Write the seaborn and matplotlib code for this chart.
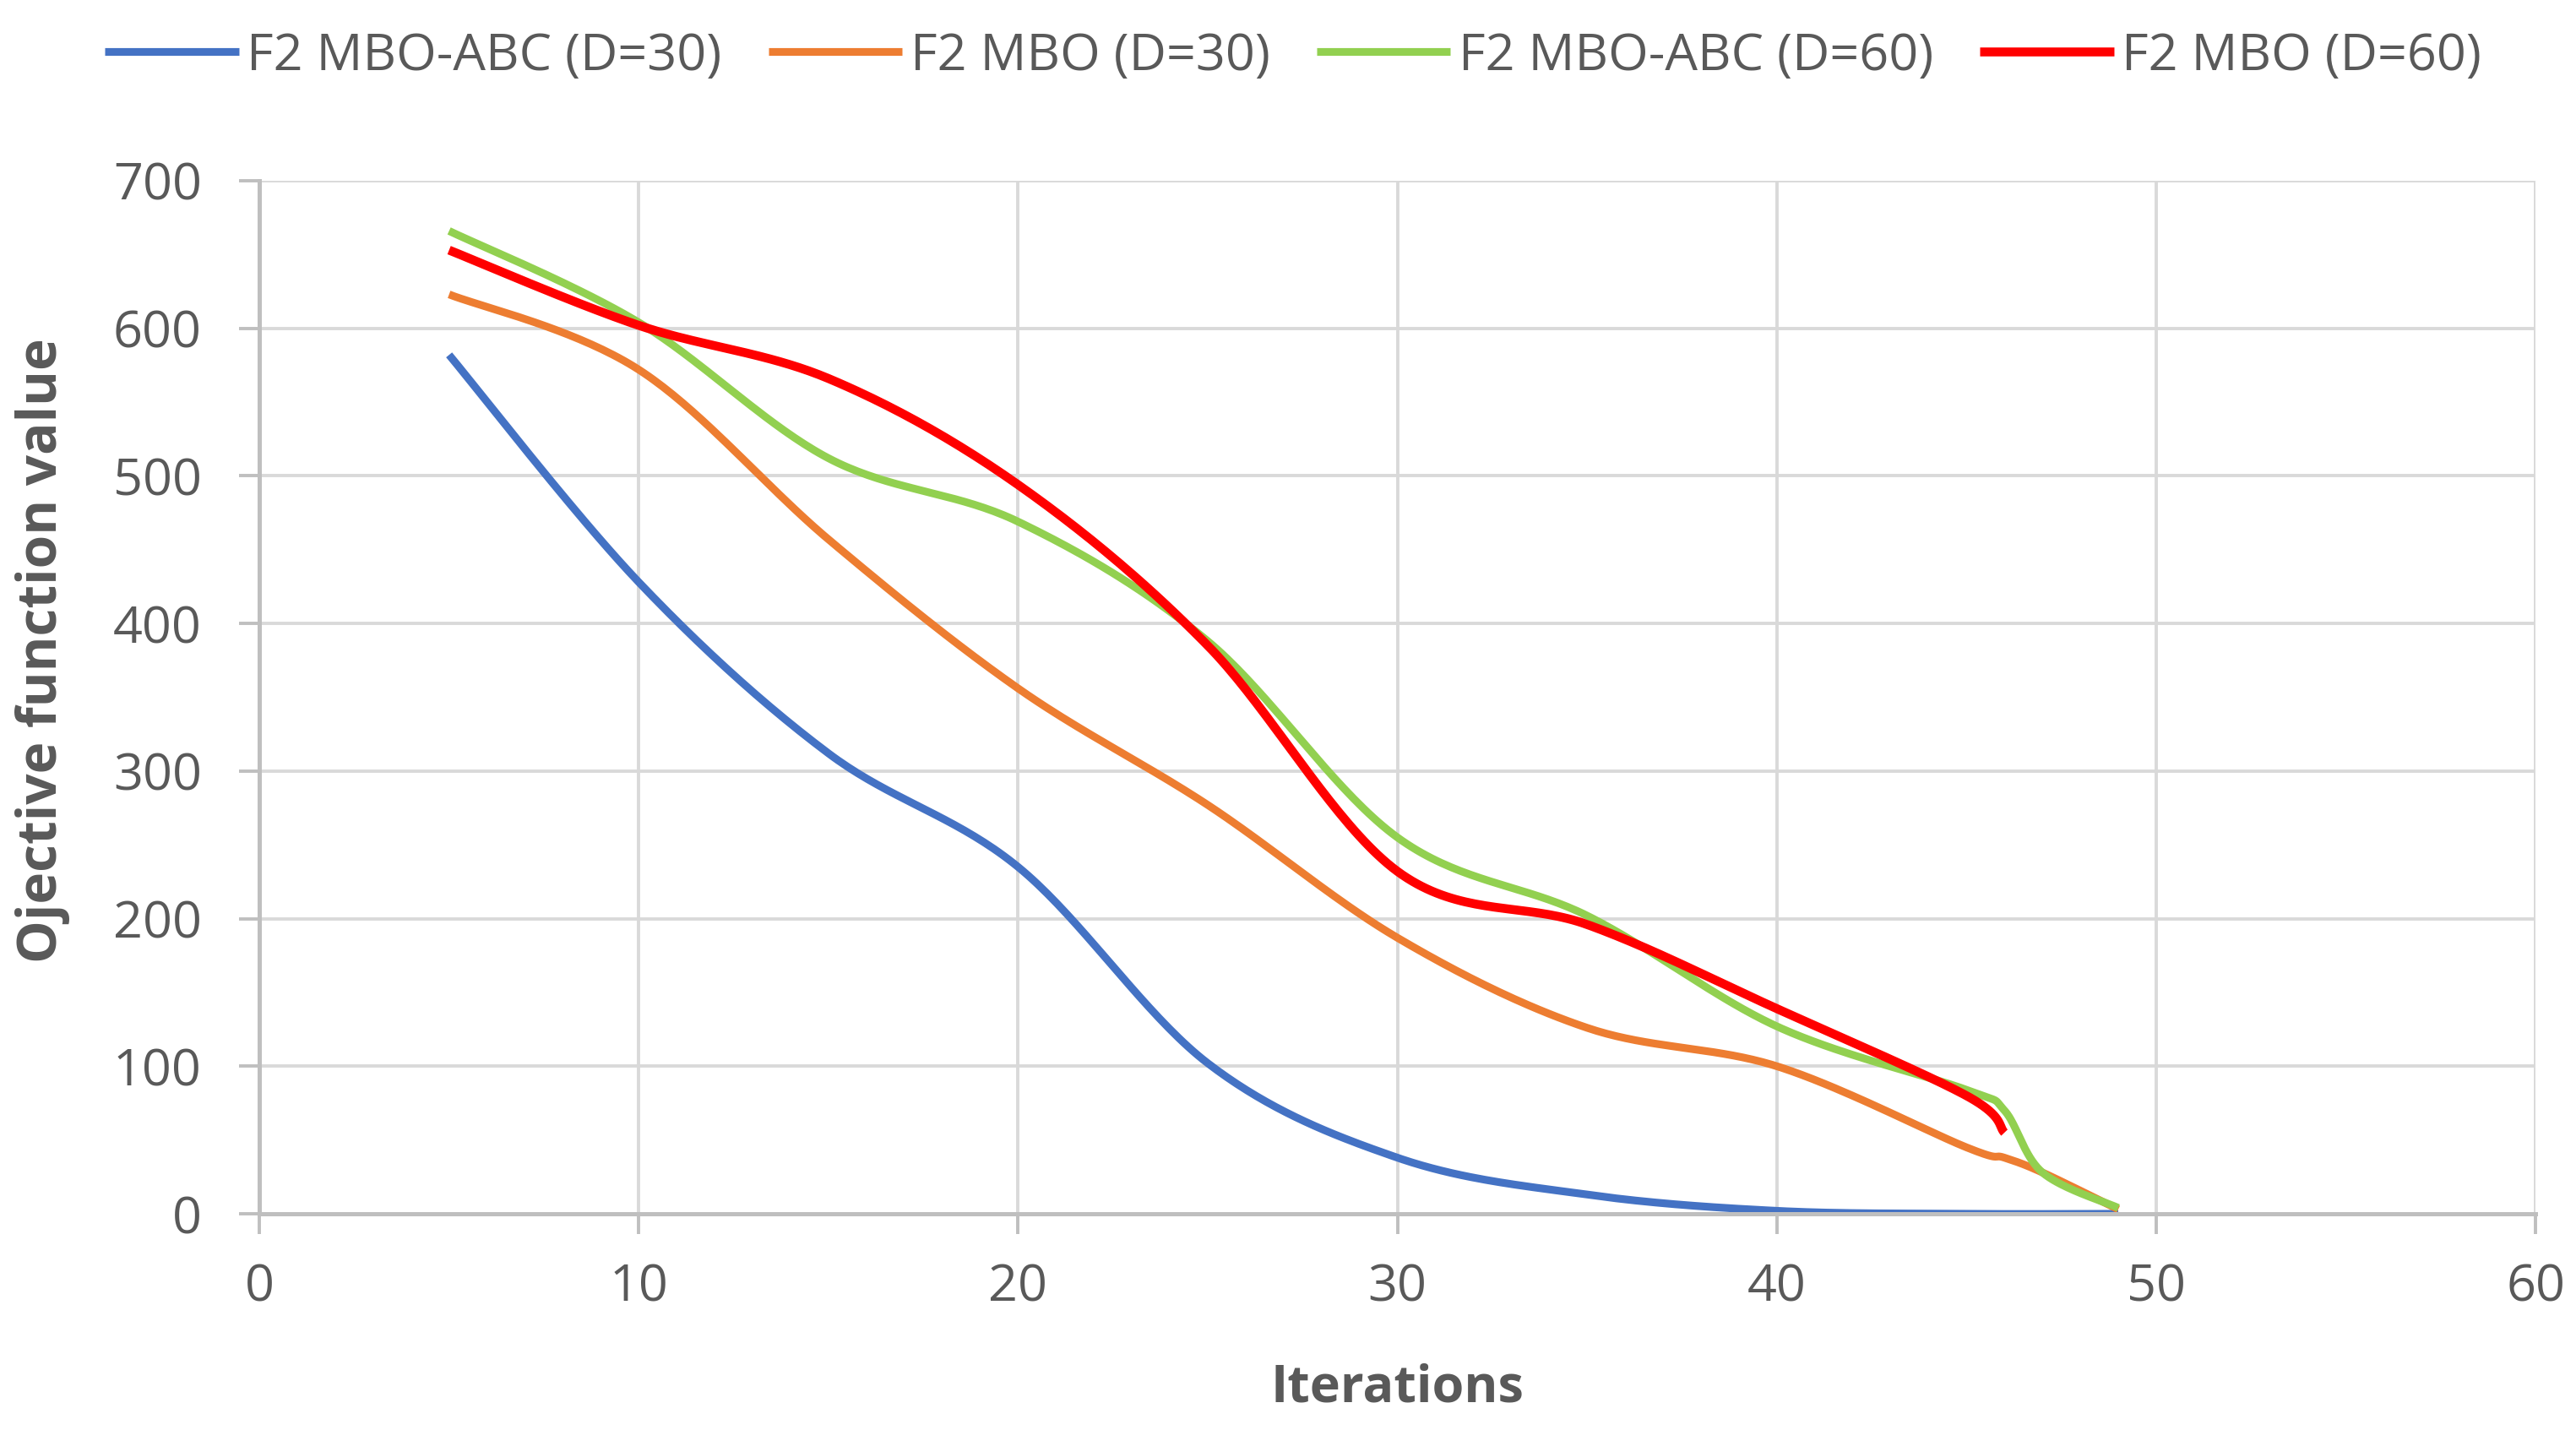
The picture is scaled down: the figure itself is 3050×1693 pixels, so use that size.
import matplotlib
matplotlib.use('Agg')
import matplotlib.pyplot as plt
import seaborn as sns
import numpy as np

# Valeurs
iters_abc30 = [5, 10, 15, 20, 25, 30, 35, 40, 45, 49]
vals_abc30 = [582, 428, 312, 235, 102, 38, 13, 2, 0, 0]

iters_mbo30 = [5, 10, 15, 20, 25, 30, 35, 40, 45, 46, 47, 49]
vals_mbo30 = [623, 572, 457, 356, 277, 187, 126, 100, 45, 38, 28, 3]

iters_abc60 = [5, 10, 15, 20, 25, 30, 35, 40, 45, 46, 47, 49]
vals_abc60 = [666, 604, 512, 469, 388, 255, 202, 127, 84, 70, 28, 4]

iters_mbo60 = [5, 10, 15, 20, 25, 30, 35, 40, 45, 46]
vals_mbo60 = [653, 602, 566, 494, 385, 232, 196, 139, 80, 55]

labels = ['F2 MBO-ABC (D=30)', 'F2 MBO (D=30)', 'F2 MBO-ABC (D=60)', 'F2 MBO (D=60)']
colors = ['#4472C4', '#ED7D31', '#92D050', '#FF0000']
x_ticks = [0, 10, 20, 30, 40, 50, 60]
y_ticks = [0, 100, 200, 300, 400, 500, 600, 700]


def smooth(xs, ys, n=40):
    # lissage type Excel (Bezier / Catmull-Rom)
    p = np.column_stack([xs, ys]).astype(float)
    p = np.vstack([p[0], p, p[-1]])
    out = []
    for i in range(1, len(p) - 2):
        p0, p1, p2, p3 = p[i - 1], p[i], p[i + 1], p[i + 2]
        c1 = p1 + (p2 - p0) / 6
        c2 = p2 - (p3 - p1) / 6
        t = np.linspace(0, 1, n)[:, None]
        seg = ((1 - t) ** 3) * p1 + 3 * ((1 - t) ** 2) * t * c1 + 3 * (1 - t) * t ** 2 * c2 + t ** 3 * p2
        out.append(seg if i == 1 else seg[1:])
    out = np.vstack(out)
    return out[:, 0], out[:, 1]


sns.set_theme(style='whitegrid')
plt.rcParams['font.family'] = ['Open Sans', 'DejaVu Sans']

fig, ax = plt.subplots(figsize=(15.25, 8.465), dpi=200)
fig.subplots_adjust(left=0.1007, right=0.9843, top=0.8736, bottom=0.1512)

series = [(iters_abc30, vals_abc30), (iters_mbo30, vals_mbo30),
          (iters_abc60, vals_abc60), (iters_mbo60, vals_mbo60)]
widths = [3.3, 3.3, 3.3, 3.8]
for (xs, ys), lab, col, lw in zip(series, labels, colors, widths):
    sx, sy = smooth(xs, ys)
    sns.lineplot(x=sx, y=sy, ax=ax, color=col, label=lab, linewidth=lw,
                 sort=False, estimator=None, solid_capstyle='butt')

ax.set_xlim(0, 60)
ax.set_ylim(0, 700)
ax.set_xticks(x_ticks)
ax.set_yticks(y_ticks)
ax.grid(True, color='#D9D9D9', linewidth=1.4)
for side in ['top', 'right']:
    ax.spines[side].set_visible(False)
for side in ['left', 'bottom']:
    ax.spines[side].set_color('#BFBFBF')
    ax.spines[side].set_linewidth(1.8)
ax.tick_params(axis='both', colors='#BFBFBF', labelcolor='#595959', labelsize=22,
               length=8.6, width=1.4, direction='out', left=True, bottom=True)
ax.tick_params(axis='x', pad=12)
ax.tick_params(axis='y', pad=16)
ax.set_xlabel('Iterations', fontsize=22, fontweight='bold', color='#595959')
ax.set_ylabel('Ojective function value', fontsize=23, fontweight='bold', color='#595959')
ax.xaxis.set_label_coords(0.5, -0.1447)
ax.yaxis.set_label_coords(-0.0831, 0.545)

ax.legend_.remove()
handles, labs = ax.get_legend_handles_labels()
fig.legend(handles, labs, loc='center', bbox_to_anchor=(0.502, 0.9605), ncol=4, frameon=False,
           fontsize=22, labelcolor='#595959', handlelength=2.6, handletextpad=0.15,
           columnspacing=0.9)

plt.savefig('out.png', dpi=200)
plt.close()
